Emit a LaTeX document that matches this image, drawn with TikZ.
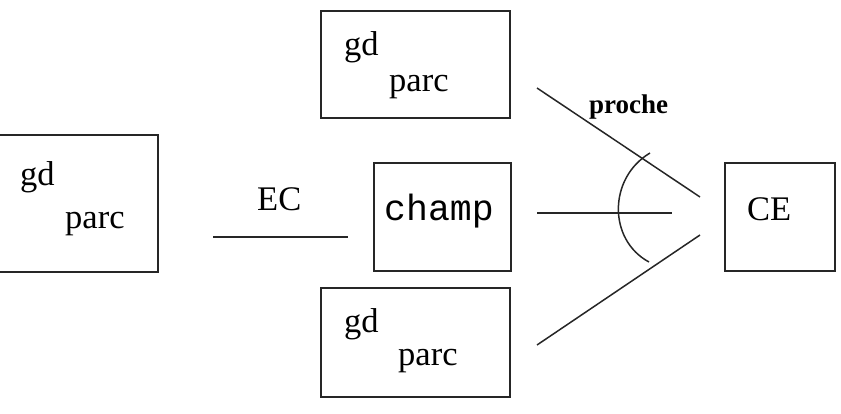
\documentclass[tikz,border=0pt]{standalone}
\usepackage{fontspec}
\setmainfont{Liberation Serif}
\newfontfamily\monofont{Liberation Mono}
\begin{document}
\begin{tikzpicture}[x=1pt,y=-1pt,
  box/.style={draw=black!85,line width=1.6pt,inner sep=0pt,minimum width=#1},
  txt/.style={anchor=base west,inner sep=0pt,font=\fontsize{34.5}{40}\selectfont},
  ln/.style={line width=1.5pt,draw=black!85}]
\useasboundingbox (0,0) rectangle (841,413);
% boxes
\node[box=160pt,minimum height=137pt] (left) at (78,203.5) {};
\node[box=189pt,minimum height=107pt] (top) at (415.5,64.5) {};
\node[box=137pt,minimum height=108pt] (champ) at (442.5,217) {};
\node[box=189pt,minimum height=109pt] (bot) at (415.5,342.5) {};
\node[box=110pt,minimum height=108pt] (ce) at (780,217) {};
% texts
\node[txt] (lgd) at (20,185) {gd};
\node[txt] (lparc) at (65,228) {parc};
\node[txt] (tgd) at (344,55) {gd};
\node[txt] (tparc) at (389,91) {parc};
\node[txt] (bgd) at (344,332) {gd};
\node[txt] (bparc) at (398,365) {parc};
\node[txt,font=\monofont\fontsize{36.5}{40}\selectfont] (champtxt) at (384,220) {champ};
\node[txt] (cetxt) at (747,220) {CE};
\node[txt] (ectxt) at (257,210) {EC};
\node[anchor=base west,inner sep=0pt,font=\bfseries\fontsize{27}{30}\selectfont] (proche) at (589,113) {proche};
% connector coordinates
\coordinate (ec1) at (213,237);
\coordinate (ec2) at (348,237);
\coordinate (t1) at (537,88);
\coordinate (t2) at (700,197);
\coordinate (m1) at (537,213);
\coordinate (m2) at (672,213);
\coordinate (b1) at (537,345);
\coordinate (b2) at (700,235);
\coordinate (a1) at (650,153);
\coordinate (a2) at (649,262);
\draw[ln] (ec1) -- (ec2);
\draw[ln] (t1) -- (t2);
\draw[ln] (m1) -- (m2);
\draw[ln] (b1) -- (b2);
\draw[ln] (a1) .. controls (608,178) and (608,240) .. (a2);
\end{tikzpicture}
\end{document}
